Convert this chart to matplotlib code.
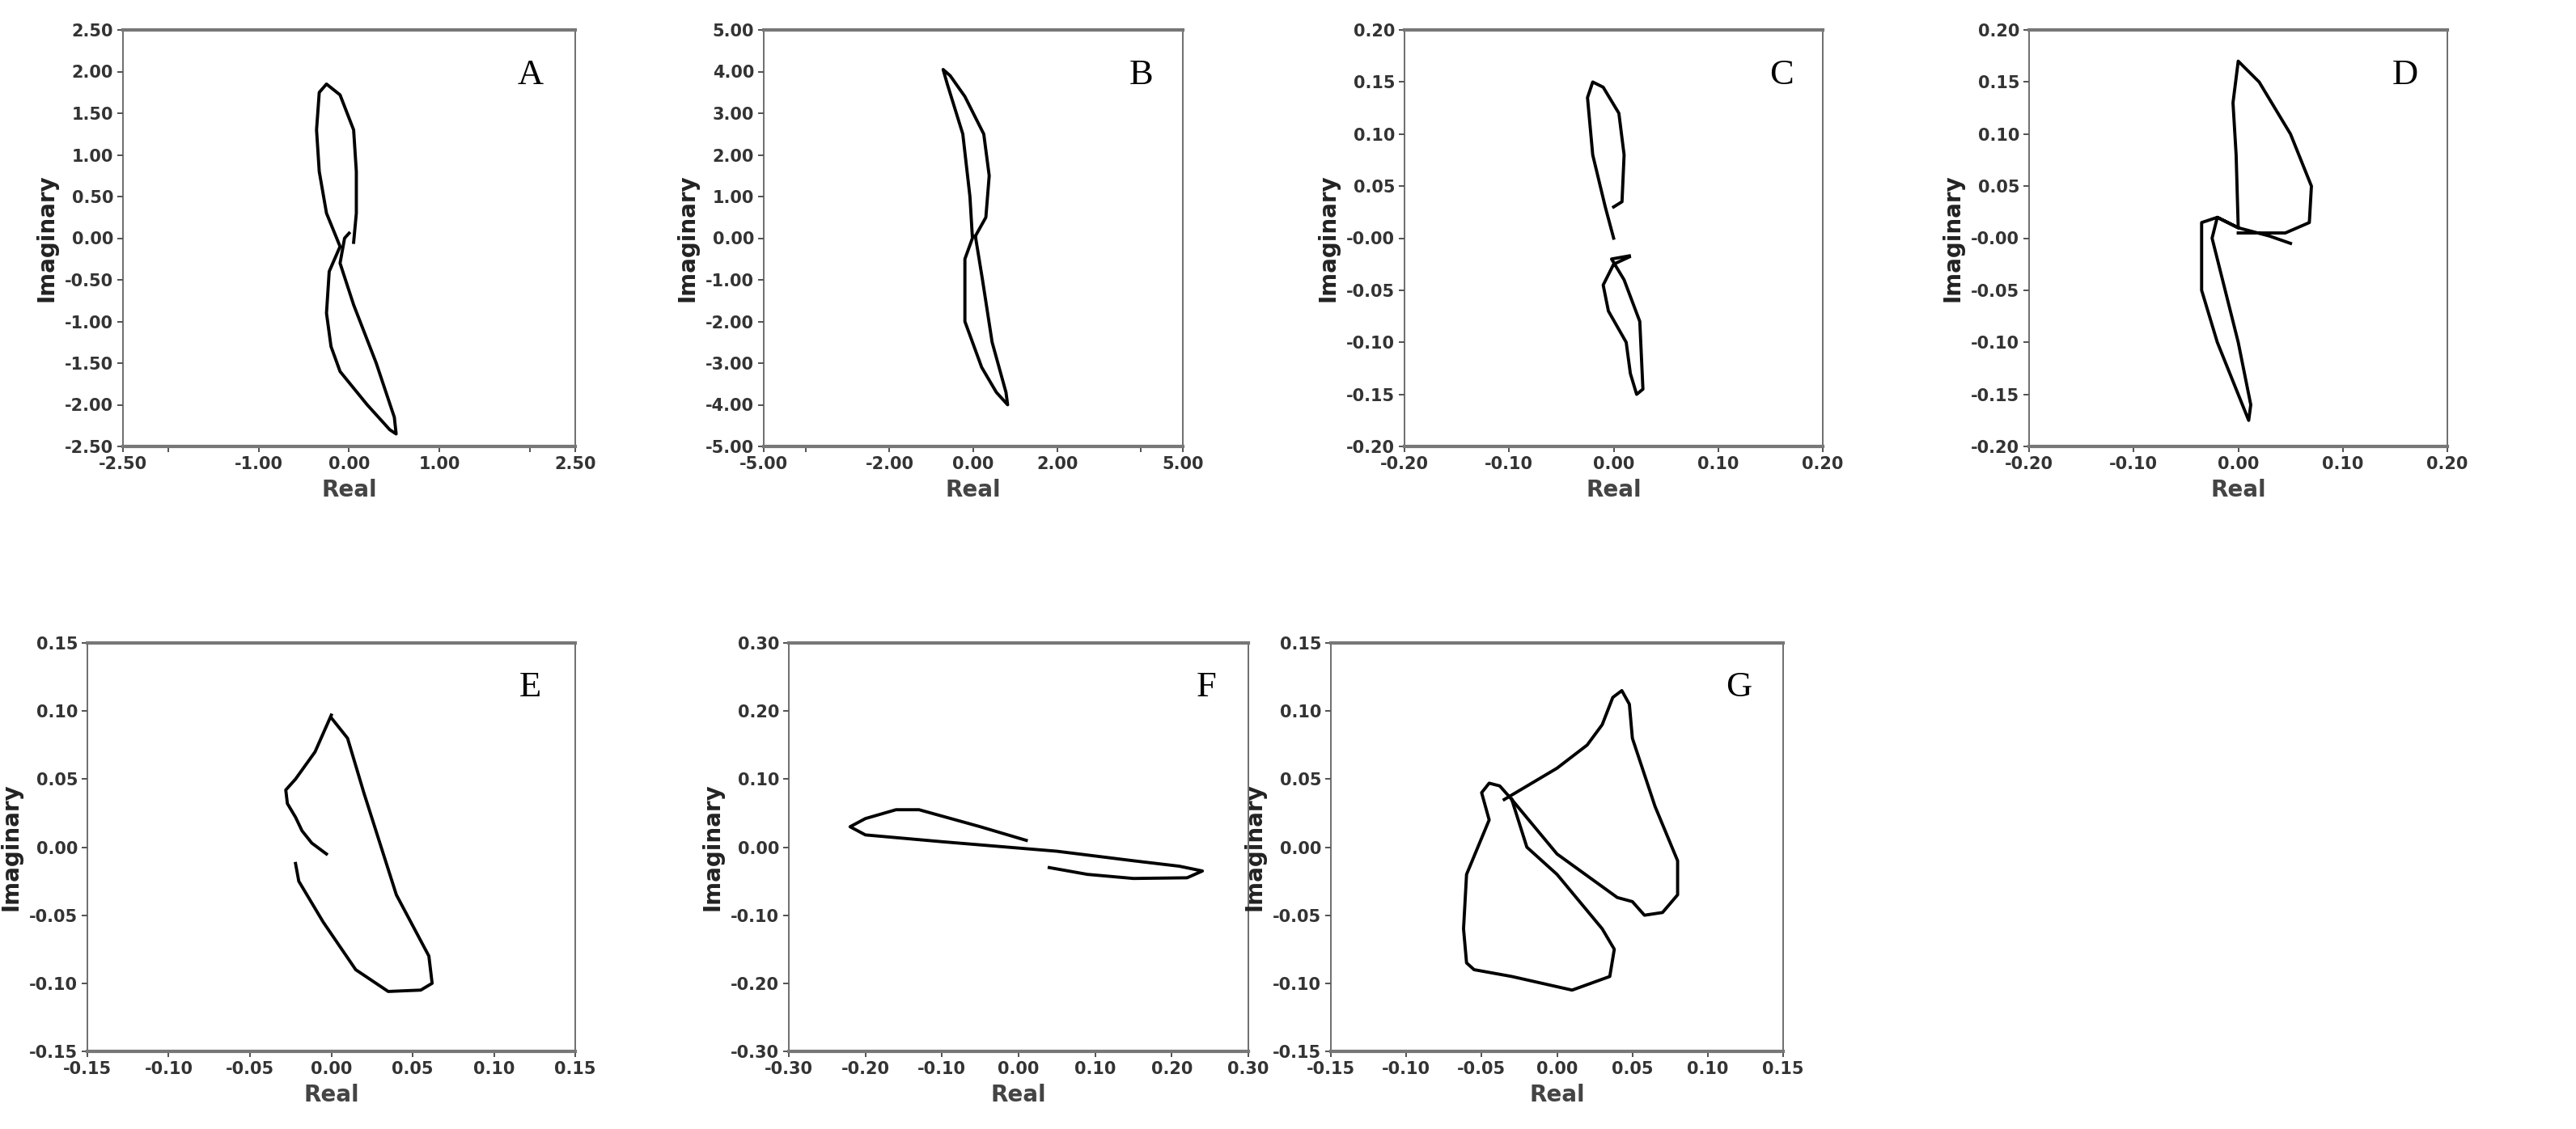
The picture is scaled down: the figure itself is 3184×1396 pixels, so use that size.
import numpy as np
import matplotlib.pyplot as plt

plt.rcParams['font.family'] = ['Liberation Sans Narrow', 'DejaVu Sans']

# traced curves (real, imaginary)
A_re = [0.05, 0.08, 0.08, 0.05, -0.1, -0.25, -0.33, -0.36, -0.33, -0.25, -0.1, -0.22, -0.25, -0.2, -0.1, 0.2, 0.45, 0.52, 0.5, 0.3, 0.05, -0.1, -0.05, 0.0]
A_im = [-0.05, 0.3, 0.8, 1.3, 1.72, 1.85, 1.75, 1.3, 0.8, 0.3, -0.1, -0.4, -0.9, -1.3, -1.6, -2.0, -2.3, -2.35, -2.15, -1.5, -0.8, -0.3, 0.0, 0.06]
B_re = [0.05, 0.3, 0.38, 0.25, -0.2, -0.55, -0.72, -0.62, -0.25, -0.08, -0.02, -0.2, -0.2, 0.2, 0.55, 0.82, 0.78, 0.45, 0.22, 0.05]
B_im = [0.05, 0.5, 1.5, 2.5, 3.4, 3.9, 4.05, 3.7, 2.5, 1.0, 0.0, -0.5, -2.0, -3.1, -3.7, -4.0, -3.7, -2.5, -1.0, 0.05]
C1_re = [0.0, 0.008, 0.01, 0.005, -0.01, -0.02, -0.025, -0.02, -0.008, 0.0]
C1_im = [0.03, 0.035, 0.08, 0.12, 0.145, 0.15, 0.135, 0.08, 0.03, 0.0]
C2_re = [0.015, 0.0, -0.01, -0.005, 0.012, 0.016, 0.022, 0.028, 0.025, 0.01, -0.002, 0.015]
C2_im = [-0.018, -0.025, -0.045, -0.07, -0.1, -0.13, -0.15, -0.145, -0.08, -0.04, -0.02, -0.017]
D_re = [0.05, 0.03, 0.0, -0.02, -0.035, -0.035, -0.02, 0.0, 0.01, 0.012, 0.0, -0.015, -0.025, -0.02, 0.0, -0.002, -0.005, 0.0, 0.02, 0.05, 0.07, 0.068, 0.045, 0.0]
D_im = [-0.005, 0.002, 0.01, 0.02, 0.015, -0.05, -0.1, -0.15, -0.175, -0.16, -0.1, -0.04, 0.0, 0.02, 0.01, 0.08, 0.13, 0.17, 0.15, 0.1, 0.05, 0.015, 0.005, 0.005]
E1_re = [0.0, 0.01, 0.02, 0.04, 0.06, 0.062, 0.055, 0.035, 0.015, -0.005, -0.015, -0.02, -0.022]
E1_im = [0.095, 0.08, 0.04, -0.035, -0.08, -0.1, -0.105, -0.106, -0.09, -0.055, -0.035, -0.025, -0.012]
E2_re = [-0.003, -0.012, -0.018, -0.022, -0.027, -0.028, -0.022, -0.01, 0.0]
E2_im = [-0.005, 0.003, 0.012, 0.022, 0.032, 0.042, 0.05, 0.07, 0.097]
F_re = [0.01, -0.05, -0.13, -0.16, -0.2, -0.22, -0.2, -0.1, 0.05, 0.15, 0.21, 0.24, 0.22, 0.15, 0.09, 0.04]
F_im = [0.01, 0.03, 0.055, 0.055, 0.042, 0.03, 0.018, 0.008, -0.006, -0.02, -0.028, -0.035, -0.045, -0.046, -0.04, -0.03]
G1_re = [-0.035, 0.0, 0.02, 0.03, 0.037, 0.043, 0.048, 0.05, 0.065, 0.08, 0.08, 0.07, 0.058, 0.05, 0.04, 0.0, -0.03]
G1_im = [0.035, 0.058, 0.075, 0.09, 0.11, 0.115, 0.105, 0.08, 0.03, -0.01, -0.035, -0.048, -0.05, -0.04, -0.037, -0.005, 0.035]
G2_re = [-0.03, -0.038, -0.045, -0.05, -0.045, -0.06, -0.062, -0.06, -0.055, -0.03, 0.01, 0.035, 0.038, 0.03, 0.0, -0.02, -0.03]
G2_im = [0.035, 0.045, 0.047, 0.04, 0.02, -0.02, -0.06, -0.085, -0.09, -0.095, -0.105, -0.095, -0.075, -0.06, -0.02, 0.0, 0.035]

panels = [
    ('A', [(A_re, A_im)], 2.5, [-2.5, -2.0, -1.0, 0.0, 1.0, 2.0, 2.5], ['-2.50', '', '-1.00', '0.00', '1.00', '', '2.50'], np.arange(-2.5, 2.51, 0.5)),
    ('B', [(B_re, B_im)], 5.0, [-5, -4, -2, 0, 2, 4, 5], ['-5.00', '', '-2.00', '0.00', '2.00', '', '5.00'], np.arange(-5, 5.1, 1.0)),
    ('C', [(C1_re, C1_im), (C2_re, C2_im)], 0.2, [-0.2, -0.1, 0, 0.1, 0.2], None, np.arange(-0.2, 0.201, 0.05)),
    ('D', [(D_re, D_im)], 0.2, [-0.2, -0.1, 0, 0.1, 0.2], None, np.arange(-0.2, 0.201, 0.05)),
    ('E', [(E1_re, E1_im), (E2_re, E2_im)], 0.15, np.arange(-0.15, 0.151, 0.05), None, np.arange(-0.15, 0.151, 0.05)),
    ('F', [(F_re, F_im)], 0.3, np.arange(-0.3, 0.301, 0.1), None, np.arange(-0.3, 0.301, 0.1)),
    ('G', [(G1_re, G1_im), (G2_re, G2_im)], 0.15, np.arange(-0.15, 0.151, 0.05), None, np.arange(-0.15, 0.151, 0.05)),
]

W, H = 3184, 1396
# axes boxes in pixels: left, right, top, bottom
boxes = [(152, 711, 37, 552), (944, 1462, 37, 552), (1736, 2253, 37, 552), (2508, 3025, 37, 552),
         (108, 711, 795, 1300), (975, 1543, 795, 1300), (1645, 2204, 795, 1300)]

fig = plt.figure(figsize=(W / 100, H / 100), dpi=100)
for (name, curves, lim, xt, xtl, yt), (l, r, t, b) in zip(panels, boxes):
    ax = fig.add_axes([l / W, 1 - b / H, (r - l) / W, (b - t) / H])
    for re, im in curves:
        ax.plot(re, im, color='black', lw=2.8, solid_joinstyle='round')
    ax.set_xlim(-lim, lim)
    ax.set_ylim(-lim, lim)
    ax.set_xticks(xt)
    if xtl is not None:
        ax.set_xticklabels(xtl)
    else:
        ax.set_xticklabels(['%.2f' % v for v in xt])
    ax.set_yticks(yt)
    ax.set_yticklabels(['%.2f' % v for v in yt])
    for s in ['top', 'bottom']:
        ax.spines[s].set_linewidth(3)
        ax.spines[s].set_color('#777777')
    for s in ['left', 'right']:
        ax.spines[s].set_linewidth(1.2)
        ax.spines[s].set_color('#555555')
    ax.tick_params(labelsize=15, colors='#333333', length=5, width=1.2)
    for lab in ax.get_xticklabels() + ax.get_yticklabels():
        lab.set_fontweight('bold')
    ax.set_xlabel('Real', fontsize=20, fontweight='bold', color='#444444', labelpad=6)
    ax.set_ylabel('Imaginary', fontsize=20, fontweight='bold', color='#222222',
                  family=['DejaVu Sans'], labelpad=6)
    ax.text(0.93, 0.93, name, transform=ax.transAxes, ha='right', va='top',
            fontsize=32, family=['Liberation Serif', 'DejaVu Serif'])

fig.savefig('out.png', dpi=100, facecolor='white')
